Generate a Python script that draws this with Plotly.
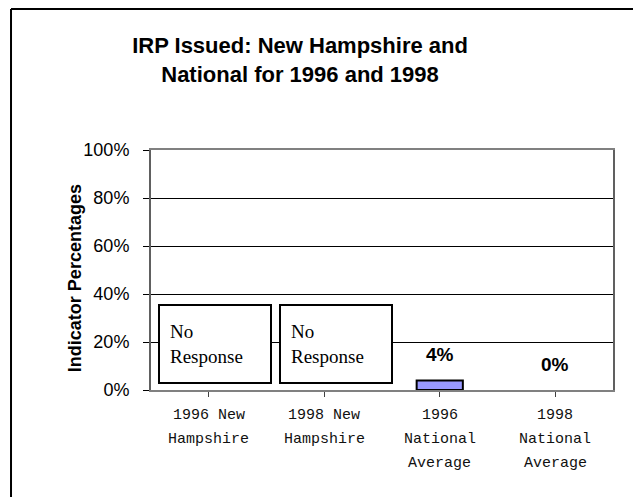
import plotly.graph_objects as go

# data
categories = ["1996 New Hampshire", "1998 New Hampshire", "1996 National Average", "1998 National Average"]
label_lines = [["1996 New", "Hampshire"], ["1998 New", "Hampshire"],
               ["1996", "National", "Average"], ["1998", "National", "Average"]]
values = [None, None, 4, 0]
value_text = ["", "", "4%", "0%"]
no_response = ["No<br>Response", "No<br>Response"]
y_ticks = [0, 20, 40, 60, 80, 100]
y_tick_text = ["0%", "20%", "40%", "60%", "80%", "100%"]

fig = go.Figure()
fig.add_trace(go.Bar(
    x=list(range(len(categories))), y=values, width=0.4,
    marker=dict(color="#9999FF",
                line=dict(color="black", width=[2 if v else 0 for v in values])),
    hoverinfo="skip"))

# value labels above bars
for i, (v, t) in enumerate(zip(values, value_text)):
    if t:
        fig.add_annotation(x=i, y=v, text="<b>%s</b>" % t, showarrow=False,
                           yanchor="middle", yshift=26,
                           font=dict(family="Liberation Sans, Arial", size=19, color="black"))

# "No Response" boxes
for i, t in enumerate(no_response):
    fig.add_annotation(x=i + 0.05 * (i + 1), y=19, text=t, showarrow=False, align="left",
                       width=90, height=56, borderpad=10, borderwidth=2,
                       bordercolor="black", bgcolor="white",
                       font=dict(family="Liberation Serif, Times New Roman", size=19, color="black"))

# category labels, one line per annotation
for i, lines in enumerate(label_lines):
    for j, line in enumerate(lines):
        fig.add_annotation(x=i, y=0, yref="paper", text=line, showarrow=False,
                           yanchor="middle", yshift=-25 - 24 * j,
                           font=dict(family="Liberation Mono, Courier New", size=15, color="#111111"))

# y axis title (sits a bit below the plot centre in the original)
fig.add_annotation(x=-0.19, y=0.467, xref="paper", yref="paper", textangle=-90,
                   text="<b>Indicator Percentages</b>", showarrow=False,
                   font=dict(family="Liberation Sans, Arial", size=18, color="black"))

# outer frame (top and left only)
fig.add_shape(type="line", xref="paper", yref="paper", x0=-0.303, x1=1.1, y0=1.588, y1=1.588,
              line=dict(color="black", width=2))
fig.add_shape(type="line", xref="paper", yref="paper", x0=-0.303, x1=-0.303, y0=1.588, y1=-0.5,
              line=dict(color="black", width=2))

fig.update_layout(
    width=633, height=497,
    margin=dict(l=151, r=20, t=150, b=107),
    paper_bgcolor="white", plot_bgcolor="white",
    showlegend=False,
    title=dict(text="<b>IRP Issued: New Hampshire and<br>National for 1996 and 1998</b>",
               x=0.474, xanchor="center", y=0.893, yanchor="middle",
               font=dict(family="Liberation Sans, Arial", size=22, color="black")),
    xaxis=dict(range=[-0.5, 3.5], tickmode="array", tickvals=list(range(len(categories))),
               showticklabels=False, ticks="outside", tickson="boundaries", ticklen=5,
               tickcolor="#404040", showline=True, linecolor="#808080", linewidth=2,
               mirror=True, showgrid=False, zeroline=False),
    yaxis=dict(range=[0, 100], tickvals=y_ticks, ticktext=y_tick_text,
               ticks="outside", ticklen=6, tickcolor="black", ticklabelstandoff=10,
               showline=True, linecolor="#606060", linewidth=2, mirror=True,
               showgrid=True, gridcolor="black", gridwidth=1, zeroline=False,
               tickfont=dict(family="Liberation Sans, Arial", size=18, color="black")),
)

# drop the browser's default body margin so the figure sits at the window origin
fig.write_html("out.html", config={"displayModeBar": False},
               post_script="document.body.style.margin='0';")
